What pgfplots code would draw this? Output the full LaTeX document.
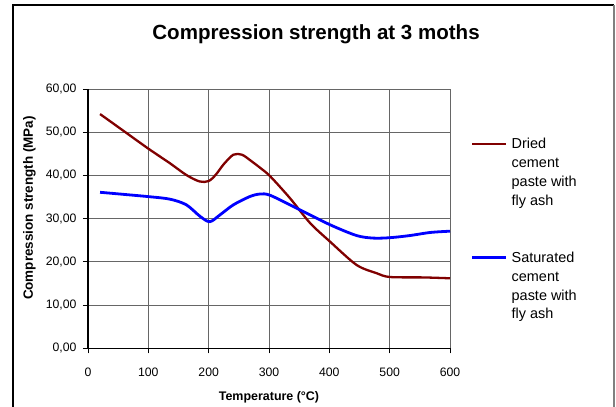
\documentclass[border=0pt]{standalone}
\usepackage{fontspec}
\setmainfont{Liberation Sans}
\usepackage{pgfplots}
\pgfplotsset{compat=1.18}
\definecolor{dried}{HTML}{800000}
\definecolor{satur}{HTML}{0000FF}
\definecolor{gridc}{HTML}{808080}

% measured data, compression strength (MPa) vs temperature (C)
\pgfplotstableread{
T    S
20   54.2
60   50.2
100  46.2
136  42.8
163  40.1
185  38.6
200  38.7
212  40.2
225  42.6
241  44.8
255  44.8
268  43.6
285  41.8
302  39.8
335  34.7
368  29.0
401  24.7
445  19.3
478  17.4
500  16.5
556  16.4
600  16.2
}\dried
\pgfplotstableread{
T    S
20   36.1
100  35.1
136  34.5
163  33.2
186  30.5
202  29.3
219  30.9
241  33.2
268  35.1
285  35.7
302  35.4
346  32.4
401  28.6
445  26.1
473  25.5
501  25.6
534  26.1
567  26.8
600  27.1
}\satur

\begin{document}
\begin{tikzpicture}
\useasboundingbox (0,0) rectangle (616bp,407bp);
\draw[black, line width=1.3bp] (13bp,0) -- (13bp,402bp) -- (614bp,402bp);
\draw[gridc, line width=1.3bp] (614bp,402bp) -- (614bp,0);
\begin{axis}[
    scale only axis,
    width=362bp, height=259.3bp,
    at={(88bp,58.7bp)}, anchor=south west,
    xmin=0, xmax=600, ymin=0, ymax=60,
    xtick={0,100,...,600}, ytick={0,10,...,60},
    axis lines*=left,
    axis line style={black, line width=1.4bp},
    grid=major,
    major grid style={black!60, line width=0.9bp},
    tick align=outside,
    major tick length=5bp,
    tick style={black, line width=1bp},
    /pgf/number format/assume math mode=true,
    tick label style={font=\fontsize{12.3}{14}\selectfont},
    xticklabel style={yshift=-11bp},
    yticklabel style={xshift=-3bp},
    yticklabel={\pgfmathprintnumber[fixed,fixed zerofill,precision=2,use comma]{\tick}},
    title={Compression strength at 3 moths},
    title style={font=\fontsize{20.6}{23}\selectfont\bfseries,
        at={(axis description cs:0.63,1.168)}, anchor=base},
    xlabel={Temperature (°C)},
    ylabel={Compression strength (MPa)},
    every axis x label/.style={at={(axis description cs:0.5,-0.1994)}, anchor=base,
        font=\fontsize{12.5}{15}\selectfont\bfseries},
    every axis y label/.style={at={(axis description cs:-0.1616,0.541)}, rotate=90, anchor=center,
        font=\fontsize{13.5}{15}\selectfont\bfseries},
    legend cell align=left,
    legend image code/.code={\draw[#1] (0bp,28.5bp) -- (34bp,28.5bp);},
    legend style={at={(axis description cs:1.0572,0.81)}, anchor=north west,
        draw=none, fill=none, inner sep=0pt, row sep=45bp,
        font=\fontsize{14.5}{18.9}\selectfont,
        nodes={align=left, inner sep=0pt},
        /tikz/every odd column/.style={column sep=4bp}},
]
\addplot[dried, line width=2.3bp, smooth, tension=0.5] table[x=T, y=S] {\dried};
\addlegendentry{Dried\\cement\\paste with\\fly ash}
\addplot[satur, line width=2.8bp, smooth, tension=0.5] table[x=T, y=S] {\satur};
\addlegendentry{Saturated\\cement\\paste with\\fly ash}
\end{axis}
\end{tikzpicture}
\end{document}
